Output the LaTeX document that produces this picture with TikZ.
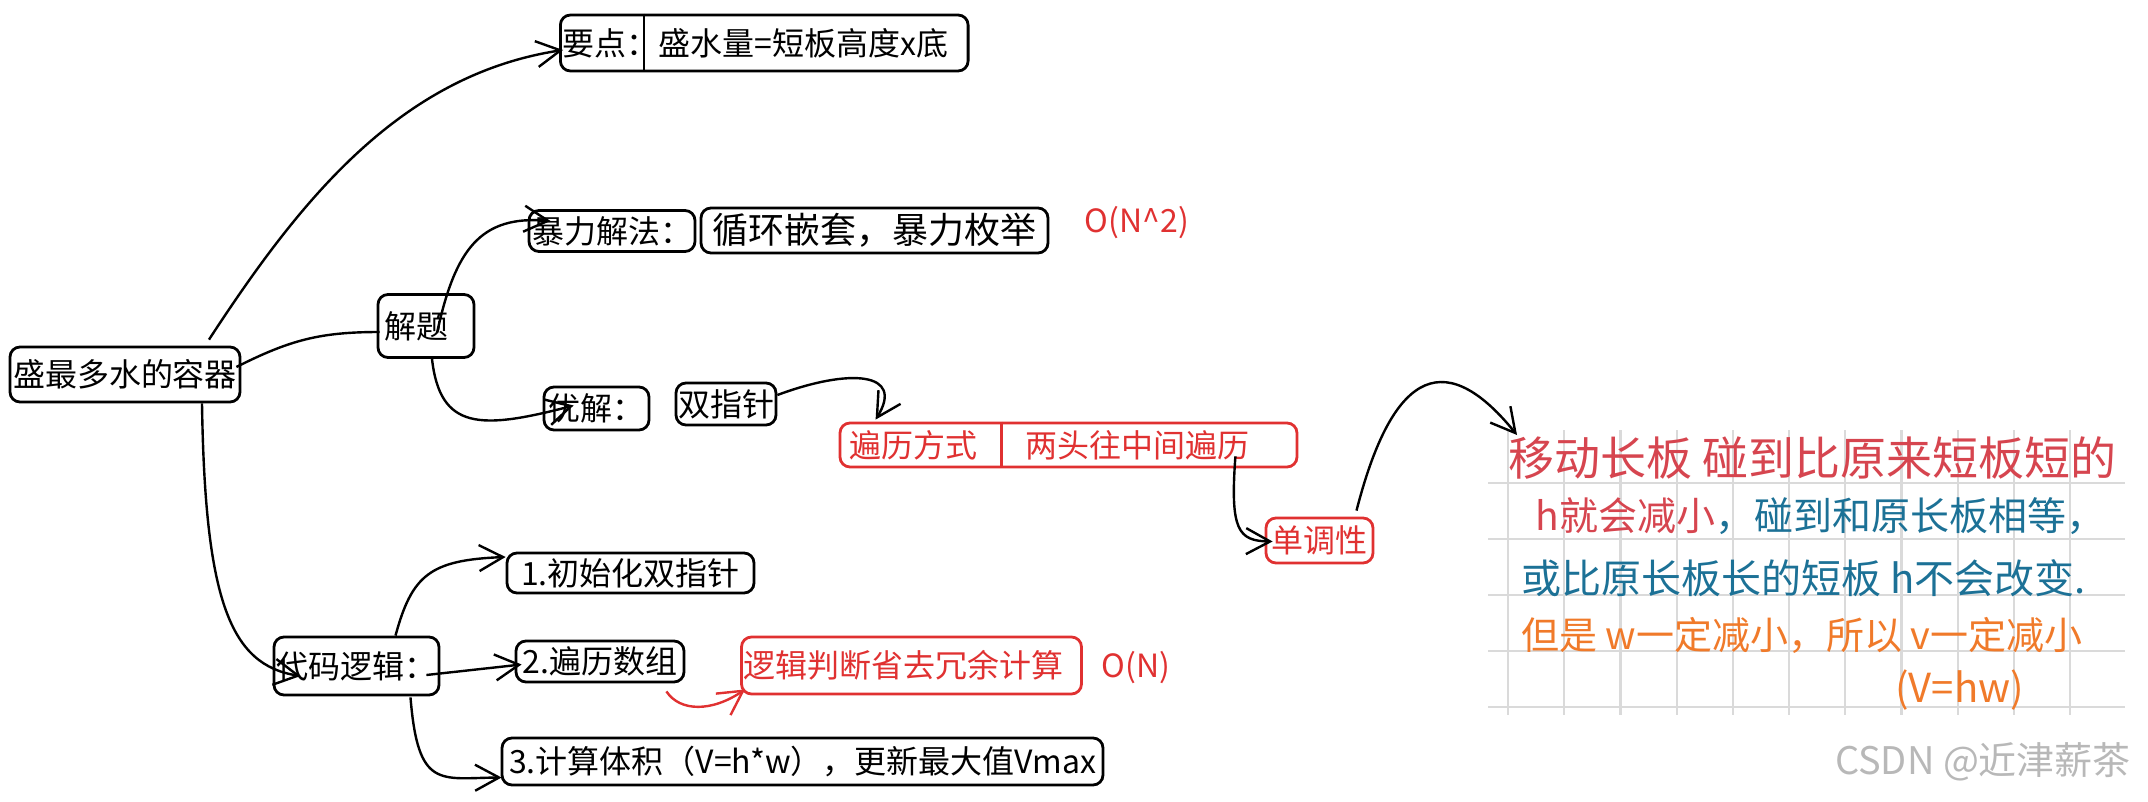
\documentclass[tikz,border=0pt]{standalone}
\usepackage{fontspec}
\setmainfont{Noto Sans CJK SC}
\usepackage{xcolor}
\usepackage{tikz}
\usetikzlibrary{arrows.meta, calc}

\definecolor{inkred}{HTML}{E03131}
\definecolor{hwred}{HTML}{D6454F}
\definecolor{hwblue}{HTML}{1C7196}
\definecolor{hworange}{HTML}{F07A2A}
\definecolor{gridgray}{HTML}{DADADA}

\begin{document}
\begin{tikzpicture}[
  x=0.5pt, y=-0.5pt,
  block/.style={rectangle, draw, rounded corners=5pt, line width=1.4pt, inner xsep=1pt, inner ysep=1pt, font=\fontsize{16}{18}\selectfont},
  bigblock/.style={block, font=\fontsize{18}{20}\selectfont},
  redblock/.style={block, draw=inkred, text=inkred},
  cost/.style={text=inkred, inner sep=0pt, font=\fontsize{16}{18}\selectfont},
  note/.style={anchor=west, inner sep=0pt},
  gridline/.style={gridgray, line width=1.1pt},
  link/.style={-{Straight Barb[length=12pt,width=13pt]}, line width=1.2pt},
]
\useasboundingbox (0,0) rectangle (2148,802);

% squared paper behind the notes
\foreach \gy in {483,539,595,651,707}
  \draw[gridline] (1488,\gy) -- (2125,\gy);
\foreach \k in {0,...,10}
  \draw[gridline] ({1508+56.2*\k},430) -- ({1508+56.2*\k},715);

\node[block, minimum width=115pt, minimum height=27.5pt] (root) at (125,374.5) {盛最多水的容器};
\node[block, anchor=west, minimum height=28pt] (keypt) at (559,43) {要点：盛水量=短板高度x底\hspace*{9pt}};
\draw[line width=1.2pt] ([xshift=42.5pt]keypt.north west) -- ([xshift=42.5pt]keypt.south west);

\node[block, minimum width=48pt, minimum height=31.5pt] (solve) at (426,326) {解题\hspace*{10pt}};
\node[block, minimum width=83pt, minimum height=20.5pt] (brute) at (612,231) {暴力解法：};
\node[bigblock, minimum width=173.5pt, minimum height=22.5pt] (nested) at (874.5,230.5) {循环嵌套，暴力枚举};
\node[cost] (costsq) at (1137,223) {O(N\textasciicircum 2)};

\node[block, minimum width=52.5pt, minimum height=21.5pt] (best) at (596.5,408.5) {优解：};
\node[block, minimum width=49pt, minimum height=21pt] (twoptr) at (726,404) {双指针};
\node[redblock, minimum width=228.5pt, minimum height=22pt] (travel) at (1068.5,445) {遍历方式\hspace{24pt}两头往中间遍历\hspace*{19pt}};
\draw[inkred, line width=1.2pt] ([xshift=81.5pt]travel.north west) -- ([xshift=81.5pt]travel.south west);
\node[redblock, minimum width=53.5pt, minimum height=22.5pt] (mono) at (1319.5,540.5) {单调性};

\node[block, minimum width=82.5pt, minimum height=29pt] (code) at (356.5,666) {代码逻辑：};
\node[block, minimum width=123.5pt, minimum height=20pt] (init) at (630.5,573) {1.初始化双指针};
\node[block, minimum width=84pt, minimum height=20.5pt] (scan) at (600,661.5) {2.遍历数组};
\node[redblock, minimum width=166.5pt, minimum height=28.5pt] (prune) at (911.5,665.5) {逻辑判断省去冗余计算\hspace*{8pt}};
\node[cost] (costn) at (1136,668) {O(N)};
\node[block, minimum width=300.5pt, minimum height=23.5pt] (volume) at (802.5,761.5) {3.计算体积（V=h*w），更新最大值Vmax};

% handwritten notes
\node[note, text=hwred, font=\fontsize{23}{24}\selectfont] (hw1) at (1508,458) {移动长板 碰到比原来短板短的};
\node[note, font=\fontsize{19.5}{21}\selectfont] (hw2) at (1535,516) {\textcolor{hwred}{h就会减小}\textcolor{hwblue}{，碰到和原长板相等，}};
\node[note, text=hwblue, font=\fontsize{20}{22}\selectfont] (hw3) at (1521,578) {或比原长板长的短板 h不会改变.};
\node[note, text=hworange, font=\fontsize{19}{21}\selectfont] (hw4) at (1521,635) {但是 w一定减小，所以 v一定减小};
\node[note, text=hworange, font=\fontsize{20}{22}\selectfont] (hw5) at (1895,690) {(V=hw)};
\coordinate (notetip) at (1517,435);

\node[text=black!28, font=\fontsize{19}{20}\selectfont] (mark) at (1983,762) {CSDN @近津薪茶};

% connectors
\draw[link] ($(root.north)+(84,-6)$) .. controls (300,200) and (400,75) .. ($(keypt.west)+(4,7)$);
\draw[line width=1.2pt] ($(root.east)+(-5,-7.5)$) .. controls (290,340) and (320,332) .. ($(solve.west)+(3,6)$);
\draw[link] ($(solve.center)+(11,7)$) .. controls (455,250) and (480,215) .. ($(brute.west)+(23,-10)$);
\draw[link] ($(solve.south)+(6,0)$) .. controls (440,430) and (480,430) .. ($(best.west)+(31,-3)$);
\draw[link] ($(twoptr.east)+(0,-9)$) .. controls (850,368) and (905,372) .. ($(travel.north west)+(37,-2)$);
\draw[link] ($(travel.south east)+(-63,-12)$) .. controls (1230,530) and (1238,541) .. ($(mono.west)+(8,1)$);
\draw[link] ($(mono.north)+(37,-6)$) .. controls (1390,380) and (1440,340) .. (notetip);
\draw[link] ($(root.south)+(77,0)$) .. controls (205,600) and (230,665) .. ($(code.west)+(28,10)$);
\draw[link] ($(code.north)+(39,0)$) .. controls (412,575) and (430,560) .. ($(init.west)+(0,-16)$);
\draw[link] ($(code.east)+(-14,9)$) -- ($(scan.west)+(7,3)$);
\draw[link] ($(code.south)+(54,1)$) .. controls (418,790) and (440,778) .. ($(volume.west)+(1,16)$);
\draw[link, inkred] ($(scan.south east)+(-19,8)$) .. controls (680,712) and (712,712) .. ($(prune.south west)+(5,-6)$);
\end{tikzpicture}
\end{document}
